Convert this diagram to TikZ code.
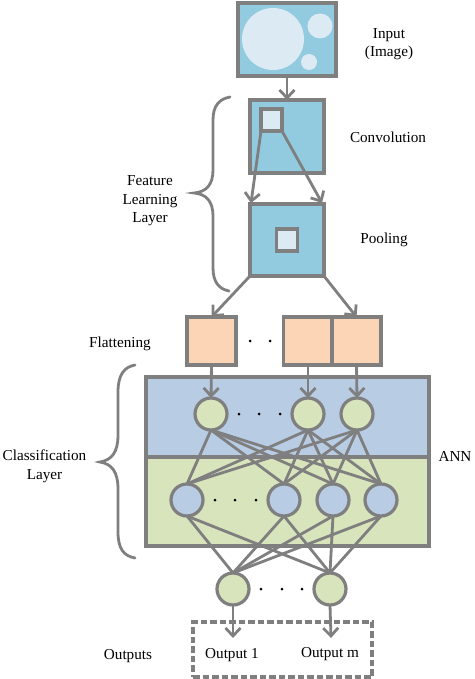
\documentclass[tikz,border=0pt]{standalone}
\usepackage{fontspec}
\setmainfont{Liberation Serif}
\usetikzlibrary{arrows.meta}
\definecolor{ln}{HTML}{7F7F7F}
\definecolor{bluebox}{HTML}{92CBDF}
\definecolor{pale}{HTML}{DCEBF3}
\definecolor{orangebox}{HTML}{FBD5B5}
\definecolor{annblue}{HTML}{B8CCE4}
\definecolor{anngreen}{HTML}{D8E4BC}
\tikzset{
  x=1pt,y=-1pt,
  every path/.style={line width=2.8pt},
  box/.style={draw=ln,rectangle,inner sep=0pt,outer sep=0pt,line width=3.2pt},
  imgbox/.style={box,fill=bluebox},
  smallbox/.style={box,fill=pale,minimum width=21pt,minimum height=22pt},
  flatbox/.style={box,fill=orangebox,minimum width=49pt,minimum height=48pt},
  neuron/.style={draw=ln,circle,inner sep=0pt,outer sep=0pt,minimum size=32pt,line width=3.2pt},
  gn/.style={neuron,fill=anngreen},
  bn/.style={neuron,fill=annblue},
  spot/.style={circle,fill=pale,inner sep=0pt,outer sep=0pt},
  arr/.style={draw=ln,-{Straight Barb[length=8pt,width=15pt,line width=2.8pt]}},
  link/.style={draw=ln},
  brace/.style={draw=ln,line cap=round},
  lbl/.style={font=\fontsize{15.2}{18.6}\selectfont,align=center,text=black,inner sep=0pt},
  dotm/.style={circle,fill=black,inner sep=0pt,minimum size=3pt}
}
\begin{document}
\begin{tikzpicture}
\useasboundingbox (0,0) rectangle (474,679);
% feature part
\node[imgbox,minimum width=98pt,minimum height=73pt] (input) at (287,39.5) {};
\node[spot,minimum size=62pt] (s1) at (273,39) {};
\node[spot,minimum size=25pt] (s2) at (320,26) {};
\node[spot,minimum size=16pt] (s3) at (309,62) {};
\node[imgbox,minimum width=74pt,minimum height=73pt] (conv) at (287,136.5) {};
\node[smallbox] (ci) at (271.5,120) {};
\node[imgbox,minimum width=74pt,minimum height=72pt] (pool) at (287,240) {};
\node[smallbox] (pi) at (287,240) {};
\coordinate (p1) at (251,203);
\coordinate (p2) at (322,203);
\draw[arr] (input.south) -- (conv.north);
\draw[arr] (ci.south west) -- (p1);
\draw[arr] (ci.south east) -- (p2);
% flatten
\node[flatbox] (f1) at (211.5,341) {};
\node[flatbox] (f2) at (308,341) {};
\node[flatbox] (f3) at (356.5,341) {};
\draw[arr] (pool.south west) -- (f1.north);
\draw[arr] (pool.south east) -- (f3.north);
\node[dotm] (d1) at (250,341) {};
\node[dotm] (d2) at (270,341) {};
% ann
\node[box,fill=annblue,minimum width=283pt,minimum height=80pt] (upper) at (287.5,417) {};
\node[box,fill=anngreen,minimum width=283pt,minimum height=89pt] (lower) at (287.5,501.5) {};
\node[gn] (t1) at (211,414) {};
\node[gn] (t2) at (308,414) {};
\node[gn] (t3) at (357,414) {};
\node[bn] (m1) at (187,500) {};
\node[bn] (m2) at (284,500) {};
\node[bn] (m3) at (333,500) {};
\node[bn] (m4) at (381,500) {};
\node[gn] (o1) at (233,589) {};
\node[gn] (o2) at (330,589) {};
\foreach \a in {t1,t2,t3}{\foreach \b in {m1,m2,m3,m4}{\draw[link] (\a.south) -- (\b.north);}}
\foreach \a in {m1,m2,m3,m4}{\foreach \b in {o1,o2}{\draw[link] (\a.south) -- (\b.north);}}
\draw[arr] (f1.south) -- (t1.north);
\draw[arr] (f2.south) -- (t2.north);
\draw[arr] (f3.south) -- (t3.north);
\foreach \x/\n in {239/a,259/b,280/c}{\node[dotm] (dt\n) at (\x,414) {};}
\foreach \x/\n in {215/a,235/b,256/c}{\node[dotm] (dm\n) at (\x,500) {};}
\foreach \x/\n in {261/a,282/b,302/c}{\node[dotm] (do\n) at (\x,589) {};}
% outputs
\node[draw=ln,line width=3.2pt,rectangle,minimum width=179pt,minimum height=55pt,inner sep=0pt,dash pattern=on 6.5pt off 3pt] (outbox) at (282.5,649.5) {};
\coordinate (e1) at (233,638);
\coordinate (e2) at (331,638);
\draw[arr] (o1.south) -- (e1);
\draw[arr] (o2.south) -- (e2);
\node[lbl] (out1) at (232,655.5) {Output 1};
\node[lbl] (outm) at (330,654) {Output m};
% braces
\draw[brace] (230,97) .. controls (219,99) and (213,106) .. (213,120) -- (213,170) .. controls (213,185) and (206,192) .. (194,193) .. controls (206,194) and (213,201) .. (213,216) -- (213,268) .. controls (213,282) and (219,289) .. (229,291);
\draw[brace] (135,365) .. controls (124,367) and (118,375) .. (118,392) -- (118,435) .. controls (118,452) and (112,460) .. (100,462) .. controls (112,464) and (118,472) .. (118,489) -- (118,532) .. controls (118,549) and (124,556) .. (135,558);
% labels
\node[lbl] (tin) at (389,44) {Input\\(Image)};
\node[lbl] (tconv) at (388,137) {Convolution};
\node[lbl] (tpool) at (384,240) {Pooling};
\node[lbl] (tfeat) at (150,201) {Feature\\Learning\\Layer};
\node[lbl] (tflat) at (120,343.5) {Flattening};
\node[lbl] (tann) at (455,456) {ANN};
\node[lbl] (tcls) at (44.5,466.5) {Classification\\Layer};
\node[lbl] (tout) at (128,656.5) {Outputs};
\end{tikzpicture}
\end{document}
